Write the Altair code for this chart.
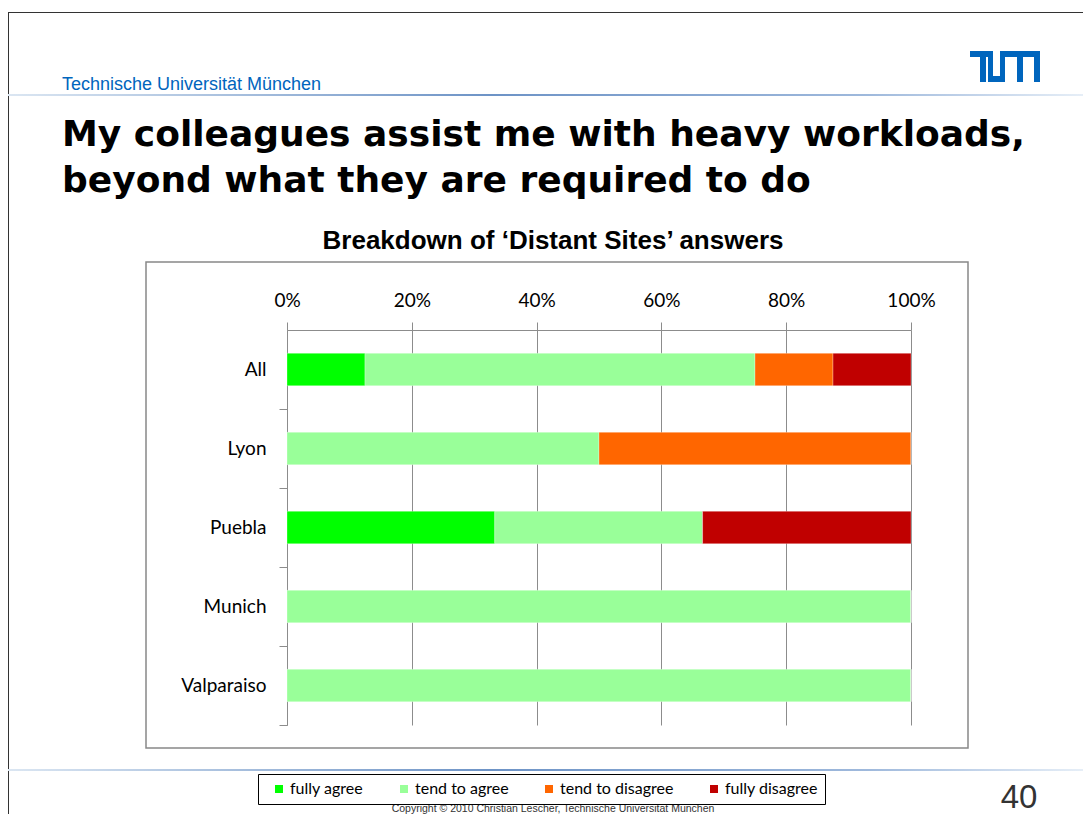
import altair as alt
import pandas as pd

# ---------------- data ----------------
categories = ["All", "Lyon", "Puebla", "Munich", "Valparaiso"]
answers = ["fully agree", "tend to agree", "tend to disagree", "fully disagree"]
answer_colors = ["#00ff00", "#99ff99", "#ff6600", "#c00000"]
fully_agree = [12.5, 0, 33.3, 0, 0]
tend_to_agree = [62.5, 50, 33.3, 100, 100]
tend_to_disagree = [12.5, 50, 0, 0, 0]
fully_disagree = [12.5, 0, 33.4, 0, 0]
x_ticks = [0, 0.2, 0.4, 0.6, 0.8, 1.0]

header_text = "Technische Universität München"
title_lines = ["My colleagues assist me with heavy workloads,",
               "beyond what they are required to do"]
chart_title = "Breakdown of \u2018Distant Sites\u2019 answers"
copyright_text = "Copyright \u00a9 2010 Christian Lescher, Technische Universität München"
page_number = "40"

series = [fully_agree, tend_to_agree, tend_to_disagree, fully_disagree]
rows = []
for i, site in enumerate(categories):
    for j, ans in enumerate(answers):
        rows.append({"site": site, "answer": ans, "order": j, "share": series[j][i] / 100.0})
df = pd.DataFrame(rows)

# ---------------- layout (page -> plot coordinates) ----------------
OX, OY = 287, 330          # page position of plot origin
W, H = 624, 395
SVG_W, SVG_H = 1075, 806


def px(x):
    return x - OX


def py(y):
    return y - OY


one = pd.DataFrame({"k": [0]})


def text_layer(txt, x, y, **kw):
    return alt.Chart(one).mark_text(text=txt, **kw).encode(x=alt.value(px(x)), y=alt.value(py(y)))


def rect_layer(x1, x2, y1, y2, **kw):
    return alt.Chart(one).mark_rect(**kw).encode(
        x=alt.value(px(x1)), x2=alt.value(px(x2)), y=alt.value(py(y1)), y2=alt.value(py(y2)))


def hline_gradient(y):
    grad = alt.Gradient(
        gradient="linear",
        stops=[alt.GradientStop(color="#dbe6f2", offset=0),
               alt.GradientStop(color="#6d93c6", offset=0.45),
               alt.GradientStop(color="#9fb9dc", offset=0.8),
               alt.GradientStop(color="#e6eef7", offset=1)],
        x1=0, x2=1, y1=0, y2=0)
    return rect_layer(8, 1083, y - 1, y + 1, fill=grad)


tum_blue = "#0065bd"
logo_parts = [
    (970, 993, 51, 57),   # T bar
    (980, 986, 51, 82),   # T stem
    (988, 993, 51, 82),   # U left
    (988, 1005, 76, 82),  # U bottom
    (1000, 1005, 51, 82), # U right / M left
    (1000, 1040, 51, 57), # M bar
    (1017, 1023, 51, 82), # M middle
    (1034, 1040, 51, 82), # M right
]

deco = [
    # slide border
    rect_layer(8, 1083, 12, 13, fill="#333333"),
    rect_layer(8, 9, 12, 8 + SVG_H, fill="#333333"),
    text_layer(header_text, 62, 90, align="left", baseline="alphabetic",
               font="Liberation Sans", fontSize=18, color=tum_blue),
    hline_gradient(95),
    text_layer(title_lines[0], 62, 146, align="left", baseline="alphabetic",
               font="DejaVu Sans", fontWeight="bold", fontSize=36, color="black"),
    text_layer(title_lines[1], 62, 192, align="left", baseline="alphabetic",
               font="DejaVu Sans", fontWeight="bold", fontSize=36, color="black"),
    text_layer(chart_title, 553, 249, align="center", baseline="alphabetic",
               font="Liberation Sans", fontWeight="bold", fontSize=26, color="black"),
    rect_layer(146, 968, 262, 748, fillOpacity=0, stroke="#888888", strokeWidth=1.5),
    hline_gradient(770),
    text_layer(page_number, 1019, 808, align="center", baseline="alphabetic",
               font="Liberation Sans", fontSize=33, color="#333333"),
    text_layer(copyright_text, 553, 8 + SVG_H, align="center", baseline="bottom",
               font="Liberation Sans", fontSize=10.5, color="#333333"),
]
for (a, b, c, d) in logo_parts:
    deco.append(rect_layer(a, b, c, d, fill=tum_blue))

grid_gray = "#8c8c8c"

bars = alt.Chart(df).mark_bar(stroke="white", strokeWidth=0.5, strokeOpacity=0.6).encode(
    x=alt.X("share:Q", stack="zero",
            scale=alt.Scale(domain=[0, 1], nice=False),
            axis=alt.Axis(orient="top", values=x_ticks, format=".0%", title=None,
                          labelFont="Lato", labelFontSize=19, labelColor="black",
                          labelPadding=12, tickSize=8, tickColor=grid_gray,
                          domainColor=grid_gray, grid=True, gridColor=grid_gray,
                          gridOpacity=1, labelFlush=False)),
    y=alt.Y("site:N", sort=categories,
            scale=alt.Scale(paddingInner=0.59, paddingOuter=0.295),
            axis=alt.Axis(title=None, labelFont="Lato", labelFontSize=19,
                          labelColor="black", labelPadding=13, tickSize=8,
                          tickColor=grid_gray, domainColor=grid_gray,
                          tickOffset=39.5, labelOffset=-39.5, grid=False)),
    color=alt.Color("answer:N", sort=answers,
                    scale=alt.Scale(domain=answers, range=answer_colors),
                    legend=alt.Legend(orient="none", legendX=px(258), legendY=py(774),
                                      direction="horizontal", title=None,
                                      strokeColor="black", fillColor="white",
                                      padding=7, symbolType="square", symbolSize=64,
                                      symbolStrokeWidth=0, symbolOffset=6,
                                      labelFont="Lato", labelFontSize=16,
                                      labelColor="black", columnPadding=26,
                                      labelOffset=3)),
    order=alt.Order("order:Q"),
)

chart = alt.layer(*deco, bars).properties(
    width=W, height=H,
    autosize=alt.AutoSizeParams(type="none"),
    padding={"left": OX - 8, "top": OY - 8, "right": SVG_W - (OX - 8) - W,
             "bottom": SVG_H - (OY - 8) - H},
    background="white",
).configure_view(stroke=None)

chart.save("out.html", embed_options={"renderer": "svg", "actions": False})
